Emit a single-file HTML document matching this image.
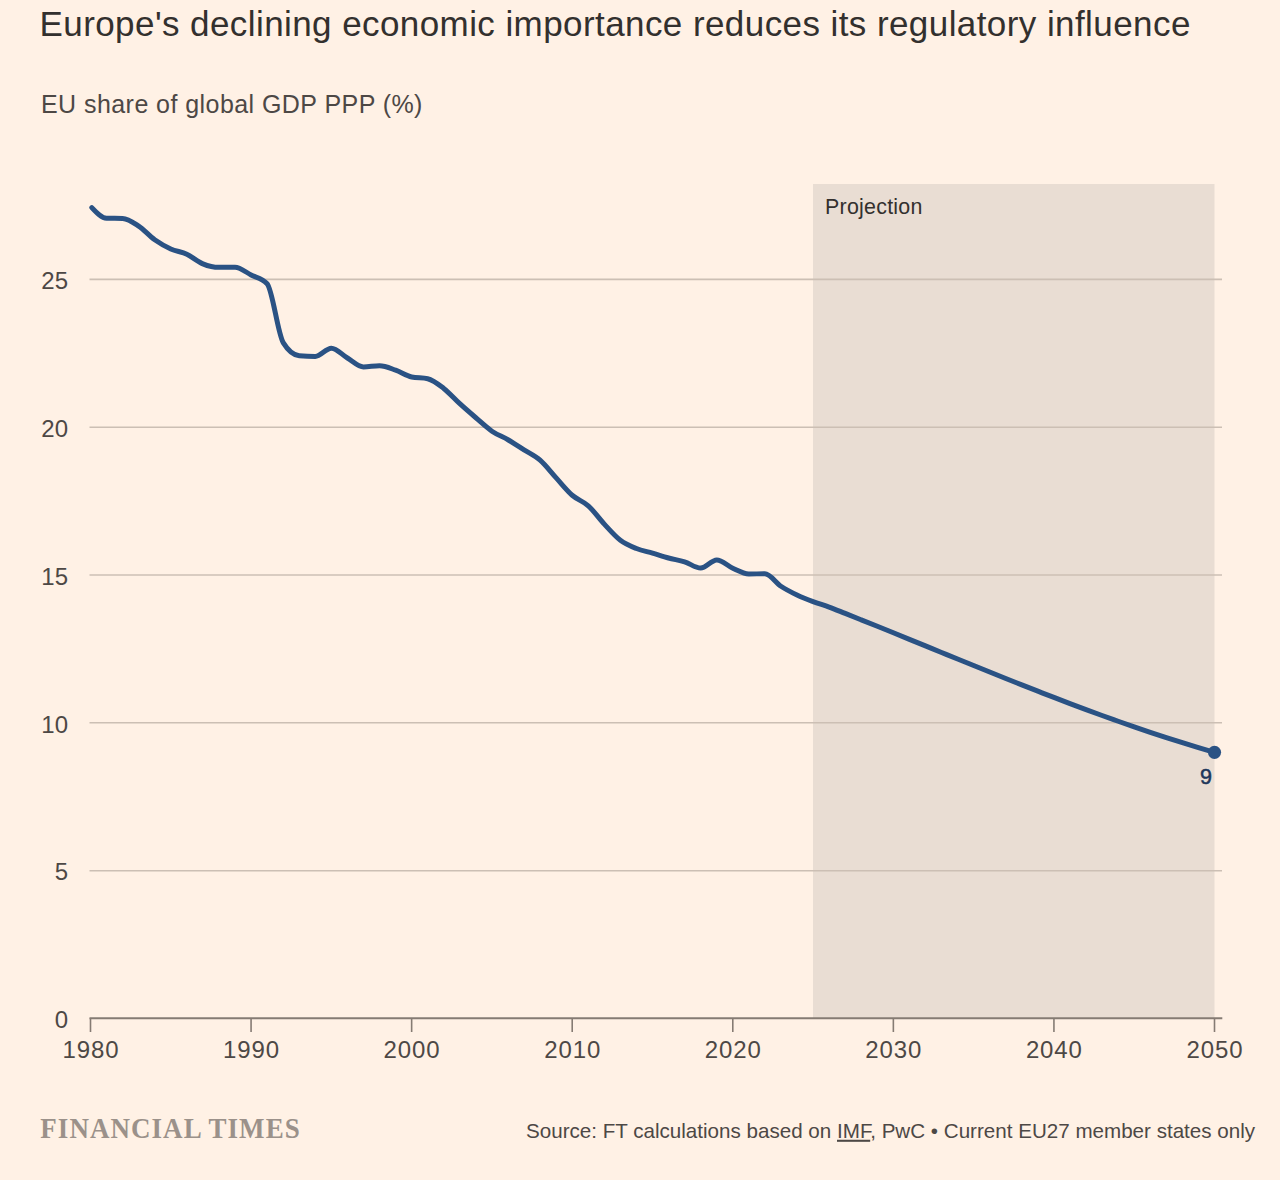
<!DOCTYPE html>
<html><head><meta charset="utf-8">
<style>
html,body{margin:0;padding:0;background:#FFF1E5;}
body{width:1280px;height:1180px;overflow:hidden;position:relative;}
svg{position:absolute;left:0;top:0;display:block;}
text{font-family:"Liberation Sans",sans-serif;}
.title{font-size:35px;fill:#33302E;letter-spacing:0.42px;}
.sub{font-size:25px;fill:#4D4845;letter-spacing:0.44px;}
.tick{font-size:24px;fill:#4D4845;}
.xt{letter-spacing:0.9px;}
.proj{font-size:21.4px;fill:#33302E;letter-spacing:0.25px;}
.lbl9{font-size:21.5px;fill:#20365A;stroke:#20365A;stroke-width:0.5px;}
.logo{font-family:"Liberation Serif",serif;font-weight:bold;font-size:27px;fill:#9B918A;letter-spacing:1.05px;}
.src{font-size:20.6px;fill:#4D4845;}
</style></head>
<body>
<svg width="1280" height="1180" viewBox="0 0 1280 1180">
<rect x="0" y="0" width="1280" height="1180" fill="#FFF1E5"/>
<rect x="813" y="184" width="401.5" height="834.5" fill="#E9DDD3"/>
<line x1="89.5" y1="279.4" x2="1222" y2="279.4" stroke="#CCBFB4" stroke-width="1.6"/>
<line x1="89.5" y1="427.2" x2="1222" y2="427.2" stroke="#CCBFB4" stroke-width="1.6"/>
<line x1="89.5" y1="575.0" x2="1222" y2="575.0" stroke="#CCBFB4" stroke-width="1.6"/>
<line x1="89.5" y1="722.8" x2="1222" y2="722.8" stroke="#CCBFB4" stroke-width="1.6"/>
<line x1="89.5" y1="870.7" x2="1222" y2="870.7" stroke="#CCBFB4" stroke-width="1.6"/>
<text x="68" y="289.1" text-anchor="end" class="tick">25</text>
<text x="68" y="436.9" text-anchor="end" class="tick">20</text>
<text x="68" y="584.7" text-anchor="end" class="tick">15</text>
<text x="68" y="732.5" text-anchor="end" class="tick">10</text>
<text x="68" y="880.4" text-anchor="end" class="tick">5</text>
<text x="68" y="1028.2" text-anchor="end" class="tick">0</text>
<line x1="89.5" y1="1018.3" x2="1222.3" y2="1018.3" stroke="#857B73" stroke-width="2"/>
<line x1="90.50" y1="1018" x2="90.50" y2="1032" stroke="#857B73" stroke-width="1.6"/>
<text x="90.95" y="1057.7" text-anchor="middle" class="tick xt">1980</text>
<line x1="251.07" y1="1018" x2="251.07" y2="1032" stroke="#857B73" stroke-width="1.6"/>
<text x="251.52" y="1057.7" text-anchor="middle" class="tick xt">1990</text>
<line x1="411.64" y1="1018" x2="411.64" y2="1032" stroke="#857B73" stroke-width="1.6"/>
<text x="412.09" y="1057.7" text-anchor="middle" class="tick xt">2000</text>
<line x1="572.21" y1="1018" x2="572.21" y2="1032" stroke="#857B73" stroke-width="1.6"/>
<text x="572.66" y="1057.7" text-anchor="middle" class="tick xt">2010</text>
<line x1="732.79" y1="1018" x2="732.79" y2="1032" stroke="#857B73" stroke-width="1.6"/>
<text x="733.24" y="1057.7" text-anchor="middle" class="tick xt">2020</text>
<line x1="893.36" y1="1018" x2="893.36" y2="1032" stroke="#857B73" stroke-width="1.6"/>
<text x="893.81" y="1057.7" text-anchor="middle" class="tick xt">2030</text>
<line x1="1053.93" y1="1018" x2="1053.93" y2="1032" stroke="#857B73" stroke-width="1.6"/>
<text x="1054.38" y="1057.7" text-anchor="middle" class="tick xt">2040</text>
<line x1="1214.50" y1="1018" x2="1214.50" y2="1032" stroke="#857B73" stroke-width="1.6"/>
<text x="1214.95" y="1057.7" text-anchor="middle" class="tick xt">2050</text>
<path d="M91.80,207.60 C96.72,212.90 101.64,218.20 106.56,218.27 C111.91,218.35 117.26,218.31 122.61,218.39 C127.97,218.47 133.32,222.53 138.67,226.09 C144.02,229.65 149.38,235.96 154.73,239.76 C160.08,243.57 165.43,246.50 170.79,248.91 C176.14,251.33 181.49,251.78 186.84,254.26 C192.20,256.75 197.55,261.64 202.90,263.82 C208.25,266.01 213.60,267.35 218.96,267.35 C224.31,267.35 229.66,267.28 235.01,267.28 C240.37,267.28 245.72,272.23 251.07,274.97 C256.42,277.71 261.78,277.88 267.13,283.71 C272.48,289.54 277.83,333.85 283.19,342.60 C288.54,351.34 293.89,355.24 299.24,355.72 C304.60,356.20 309.95,356.44 315.30,356.44 C320.65,356.44 326.00,348.17 331.36,348.17 C336.71,348.17 342.06,354.88 347.41,358.01 C352.77,361.13 358.12,366.91 363.47,366.91 C368.82,366.91 374.18,365.80 379.53,365.80 C384.88,365.80 390.23,368.26 395.59,370.12 C400.94,371.98 406.29,375.80 411.64,376.96 C417.00,378.11 422.35,377.53 427.70,378.69 C433.05,379.85 438.40,384.24 443.76,388.41 C449.11,392.58 454.46,398.82 459.81,403.71 C465.17,408.61 470.52,413.19 475.87,417.77 C481.22,422.35 486.58,427.53 491.93,431.19 C497.28,434.85 502.63,436.63 507.99,439.74 C513.34,442.86 518.69,446.47 524.04,449.88 C529.40,453.29 534.75,455.53 540.10,460.21 C545.45,464.88 550.80,472.09 556.16,477.93 C561.51,483.77 566.86,490.60 572.21,495.24 C577.57,499.88 582.92,500.95 588.27,505.77 C593.62,510.59 598.98,518.41 604.33,524.16 C609.68,529.91 615.03,536.22 620.39,540.29 C625.74,544.35 631.09,546.42 636.44,548.55 C641.80,550.69 647.15,551.55 652.50,553.12 C657.85,554.70 663.20,556.57 668.56,558.01 C673.91,559.46 679.26,560.13 684.61,561.80 C689.97,563.48 695.32,568.06 700.67,568.06 C706.02,568.06 711.38,559.93 716.73,559.93 C722.08,559.93 727.43,565.93 732.79,568.28 C738.14,570.62 743.49,574.00 748.84,574.00 C754.20,574.00 759.55,573.75 764.90,573.75 C770.25,573.75 775.60,582.70 780.96,586.24 C786.31,589.78 791.66,592.44 797.01,595.00 C802.37,597.56 807.72,599.59 813.07,601.60 C818.42,603.61 823.78,605.12 829.13,607.09 C834.48,609.06 839.83,611.30 845.19,613.42 C850.54,615.55 855.89,617.69 861.24,619.83 C866.60,621.97 871.95,624.13 877.30,626.29 C882.65,628.45 888.00,630.63 893.36,632.80 C898.71,634.97 904.06,637.15 909.41,639.34 C914.77,641.52 920.12,643.71 925.47,645.89 C930.82,648.08 936.18,650.27 941.53,652.45 C946.88,654.64 952.23,656.82 957.59,659.00 C962.94,661.19 968.29,663.37 973.64,665.54 C979.00,667.71 984.35,669.88 989.70,672.03 C995.05,674.19 1000.40,676.35 1005.76,678.49 C1011.11,680.63 1016.46,682.76 1021.81,684.88 C1027.17,687.00 1032.52,689.10 1037.87,691.20 C1043.22,693.29 1048.58,695.37 1053.93,697.43 C1059.28,699.49 1064.63,701.54 1069.99,703.56 C1075.34,705.59 1080.69,707.60 1086.04,709.59 C1091.40,711.57 1096.75,713.54 1102.10,715.49 C1107.45,717.43 1112.80,719.35 1118.16,721.25 C1123.51,723.14 1128.86,725.01 1134.21,726.86 C1139.57,728.70 1144.92,730.52 1150.27,732.30 C1155.62,734.09 1160.98,735.85 1166.33,737.57 C1171.68,739.30 1177.03,741.00 1182.39,742.66 C1187.74,744.32 1193.09,745.93 1198.44,747.54 C1203.80,749.14 1209.15,750.72 1214.50,752.30" fill="none" stroke="#2A5284" stroke-width="5" stroke-linecap="round" stroke-linejoin="round"/>
<circle cx="1214.5" cy="752.3" r="6.6" fill="#2A5284"/>
<text x="1206" y="783.8" text-anchor="middle" class="lbl9">9</text>
<text x="825" y="213.75" class="proj">Projection</text>
<text x="39.5" y="36.25" class="title">Europe's declining economic importance reduces its regulatory influence</text>
<text x="41" y="112.8" class="sub">EU share of global GDP PPP (%)</text>
<text x="0" y="0" transform="translate(40.3,1137.6) scale(1,1.13)" class="logo">FINANCIAL TIMES</text>
<text x="526" y="1137.75" class="src">Source: FT calculations based on <tspan text-decoration="underline">IMF</tspan>, PwC • Current EU27 member states only</text>
</svg>
</body></html>
